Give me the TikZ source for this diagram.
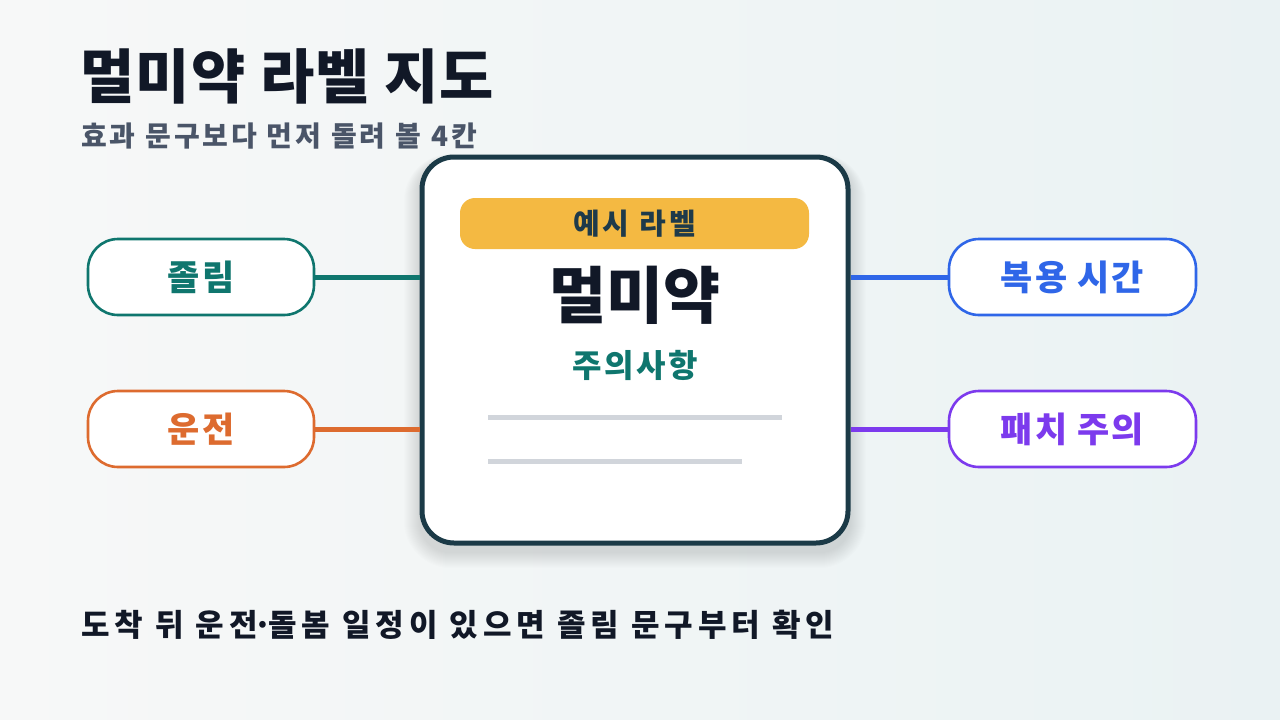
\documentclass[tikz,border=0pt]{standalone}
\usepackage{fontspec}
\setmainfont{Noto Sans CJK KR}
\definecolor{bgA}{HTML}{F7F8F8}
\definecolor{bgB}{HTML}{EAF2F3}
\definecolor{ink}{HTML}{111827}
\definecolor{sub}{HTML}{4A5568}
\definecolor{cardline}{HTML}{1B3A47}
\definecolor{badge}{HTML}{F4B942}
\definecolor{badgetext}{HTML}{1E3A4A}
\definecolor{teal}{HTML}{0F766E}
\definecolor{orng}{HTML}{DD6B2F}
\definecolor{blu}{HTML}{2F66E8}
\definecolor{purp}{HTML}{7C3AED}
\definecolor{rule}{HTML}{D1D5DB}
\definecolor{shadowc}{HTML}{4B5D6B}
\newcommand{\ksize}[2]{\fontsize{#1}{#1}\selectfont\bfseries\addfontfeatures{LetterSpace=#2}}
\newcommand{\kdot}{\kern-0.14em·\kern-0.14em}
\newcommand{\wsp}{\hspace{10pt}}
\tikzset{
  tag/.style={draw=#1, line width=2.6pt, fill=white, rounded corners=30pt,
    minimum height=76pt, inner sep=0pt, text=#1,
    font=\ksize{35}{6}},
  link/.style={draw=#1, line width=5pt},
  txt/.style={inner sep=0pt, anchor=base west}
}
\begin{document}
\begin{tikzpicture}[x=1pt,y=-1pt]
\shade[left color=bgA, right color=bgB] (0,0) rectangle (1280,720);
\useasboundingbox (0,0) rectangle (1280,720);

\node[txt, text=ink, font=\ksize{59}{2}] (title) at (80,98) {멀미약 라벨 지도};
\node[txt, text=sub, font=\ksize{28}{10}] (subtitle) at (81,146) {효과\wsp 문구보다\wsp 먼저\wsp 돌려\wsp 볼\wsp 4칸};

% soft shadow under the card
\foreach \i in {0,...,15}{
  \fill[shadowc, opacity=0.011, rounded corners={32pt+\i pt}]
    ({635-216-\i},{350-190-0.4*\i}) rectangle ({635+216+\i},{350+203+\i});
}

\node[draw=cardline, line width=5pt, fill=white, rounded corners=32pt,
  minimum width=426pt, minimum height=386pt, inner sep=0pt]
  (card) at (635,350) {};

\node[fill=badge, rounded corners=15pt, minimum width=349pt, minimum height=51pt, inner sep=0pt,
  text=badgetext, font=\ksize{29}{11}] (badge) at (634.5,223.5) {예시 라벨};
\node[text=ink, font=\ksize{62}{0}, inner sep=0pt] (drug) at (635,295) {멀미약};
\node[text=teal, font=\ksize{32}{8}, inner sep=0pt] (warn) at (635,365) {주의사항};

\coordinate (r1a) at (488,417);
\coordinate (r1b) at (782,417);
\coordinate (r2a) at (488,461);
\coordinate (r2b) at (742,461);
\draw[rule, line width=5pt] (r1a) -- (r1b);
\draw[rule, line width=5pt] (r2a) -- (r2b);

\node[tag=teal, minimum width=226pt] (sleep) at (201,277) {졸림};
\node[tag=orng, minimum width=226pt] (drive) at (201,429) {운전};
\node[tag=blu, minimum width=247pt] (time) at (1072.5,277) {복용 시간};
\node[tag=purp, minimum width=247pt] (patch) at (1072.5,429) {패치 주의};

\draw[link=teal] (sleep.east) -- (card.west |- sleep.east);
\draw[link=orng] (drive.east) -- (card.west |- drive.east);
\draw[link=blu] (card.east |- time.west) -- (time.west);
\draw[link=purp] (card.east |- patch.west) -- (patch.west);

\node[txt, text=ink, font=\ksize{31}{16}] (note) at (81,636) {도착 뒤 운전\kdot 돌봄 일정이 있으면 졸림 문구부터 확인};
\end{tikzpicture}
\end{document}
